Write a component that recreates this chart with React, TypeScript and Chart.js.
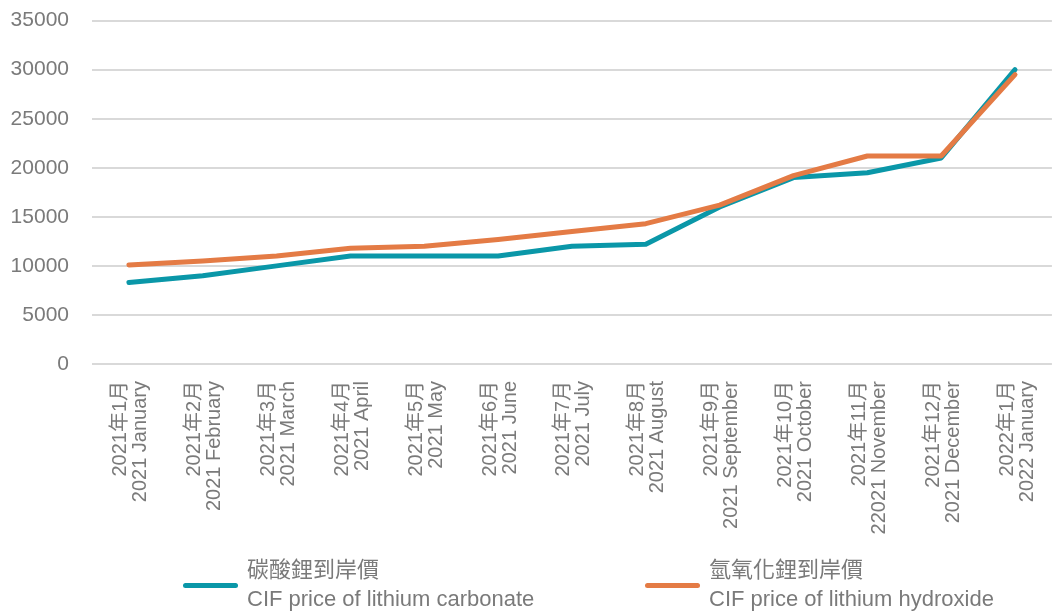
import React, { useEffect, useRef } from "react";
import { Chart, registerables } from "chart.js";

Chart.register(...registerables);

const zhLabels = ["2021年1月", "2021年2月", "2021年3月", "2021年4月", "2021年5月", "2021年6月", "2021年7月", "2021年8月", "2021年9月", "2021年10月", "2021年11月", "2021年12月", "2022年1月"];
const enLabels = ["2021 January", "2021 February", "2021 March", "2021 April", "2021 May", "2021 June", "2021 July", "2021 August", "2021 September", "2021 October", "22021 November", "2021 December", "2022 January"];
const carbonate = [8300, 9000, 10000, 11000, 11000, 11000, 12000, 12200, 16000, 19000, 19500, 21000, 30000];
const hydroxide = [10100, 10500, 11000, 11800, 12000, 12700, 13500, 14300, 16200, 19200, 21200, 21200, 29500];
const yTicks = [0, 5000, 10000, 15000, 20000, 25000, 30000, 35000];

const TEAL = "#0A97A8";
const ORANGE = "#E47B45";
const GREY = "#7a7a7a";
const FONT = "'Liberation Sans', Arial, 'Noto Sans CJK TC', sans-serif";

export default function App() {
  const ref = useRef<HTMLCanvasElement | null>(null);
  useEffect(() => {
    if (!ref.current) return;
    const chart = new Chart(ref.current, {
      type: "line",
      data: {
        labels: zhLabels.map((z, i) => [z, enLabels[i]]),
        datasets: [
          {
            label: "碳酸鋰到岸價 CIF price of lithium carbonate",
            data: carbonate,
            borderColor: TEAL,
            backgroundColor: TEAL,
            borderWidth: 5,
            pointRadius: 0,
            borderCapStyle: "round",
            borderJoinStyle: "round",
            tension: 0,
            order: 1,
          },
          {
            label: "氫氧化鋰到岸價 CIF price of lithium hydroxide",
            data: hydroxide,
            borderColor: ORANGE,
            backgroundColor: ORANGE,
            borderWidth: 5,
            pointRadius: 0,
            borderCapStyle: "round",
            borderJoinStyle: "round",
            tension: 0,
            order: 0,
          },
        ],
      },
      options: {
        responsive: false,
        animation: false,
        layout: { padding: { left: 0, right: 0, top: 10, bottom: 0 } },
        plugins: { legend: { display: false }, tooltip: { enabled: false } },
        scales: {
          x: {
            offset: true,
            grid: { display: false, drawTicks: false },
            border: { display: false },
            ticks: {
              color: GREY,
              font: { family: FONT, size: 20, lineHeight: 1.0 },
              minRotation: 90,
              maxRotation: 90,
              padding: 17,
              labelOffset: -8,
              autoSkip: false,
            },
            afterFit: (s: any) => {
              s.height = 177;
            },
          },
          y: {
            min: 0,
            max: 35000,
            afterBuildTicks: (s: any) => {
              s.ticks = yTicks.map((v) => ({ value: v }));
            },
            grid: { color: "#d9d9d9", lineWidth: 2, drawTicks: false },
            border: { display: false },
            ticks: {
              color: GREY,
              font: { family: FONT, size: 21 },
              padding: 23,
              callback: (v: any) => String(v),
            },
            afterFit: (s: any) => {
              s.width = 92;
            },
          },
        },
      },
    });
    return () => chart.destroy();
  }, []);

  const legendItem = (left: number, color: string, zh: string, en: string) => (
    <div style={{ position: "absolute", left, top: 555, height: 60 }}>
      <div
        style={{
          position: "absolute",
          left: 0,
          top: 28,
          width: 55,
          height: 5,
          borderRadius: 3,
          background: color,
        }}
      />
      <div
        style={{
          position: "absolute",
          left: 64,
          top: 0,
          whiteSpace: "nowrap",
          color: GREY,
          fontFamily: FONT,
          fontSize: 22,
          lineHeight: "29px",
        }}
      >
        <div>{zh}</div>
        <div>{en}</div>
      </div>
    </div>
  );

  return (
    <div
      style={{
        position: "fixed",
        left: 0,
        top: 0,
        width: 1061,
        height: 613,
        overflow: "hidden",
      }}
    >
      <canvas ref={ref} width={1072} height={556} style={{ position: "absolute", left: 0, top: -15 }} />
      {legendItem(183, TEAL, "碳酸鋰到岸價", "CIF price of lithium carbonate")}
      {legendItem(645, ORANGE, "氫氧化鋰到岸價", "CIF price of lithium hydroxide")}
    </div>
  );
}
